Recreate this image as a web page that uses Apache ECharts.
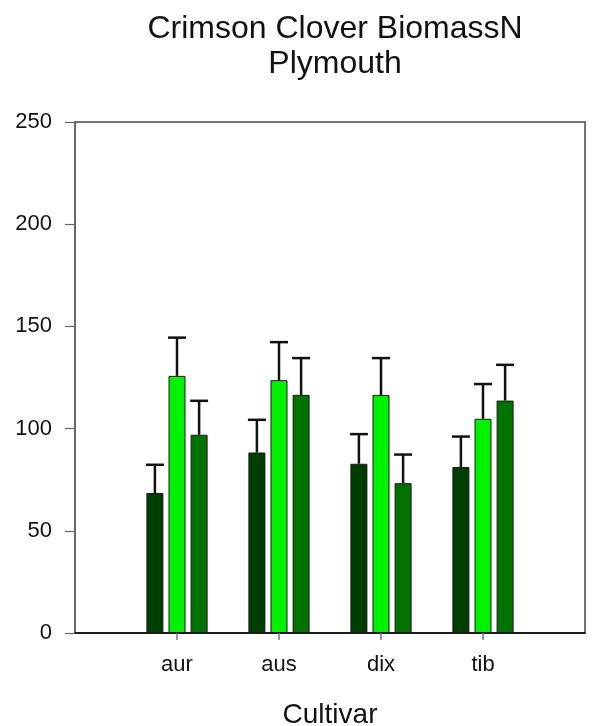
<!DOCTYPE html>
<html>
<head>
<meta charset="utf-8">
<title>Crimson Clover BiomassN - Plymouth</title>
<script src="https://cdn.jsdelivr.net/npm/echarts@6/dist/echarts.min.js"></script>
<style>
  html, body { margin: 0; padding: 0; background: #fff; }
  #chart { width: 604px; height: 726px; }
</style>
</head>
<body>
<div id="chart"></div>
<script>
// Cultivars on the x axis
const cultivars = ['aur', 'aus', 'dix', 'tib'];

// Bar heights (mean biomass N) for the three treatments per cultivar
const meanA = [68.5, 88.3, 82.8, 81.2];
const meanB = [125.8, 123.7, 116.4, 104.8];
const meanC = [97.0, 116.5, 73.3, 113.7];

// Top of the upper error bar (mean + error) for each bar
const upperA = [82.3, 104.3, 97.3, 96.1];
const upperB = [144.5, 142.3, 134.5, 121.8];
const upperC = [113.6, 134.5, 87.3, 131.2];

// Y axis ticks
const yTicks = [0, 50, 100, 150, 200, 250];

const FONT = "'Liberation Sans', Arial, sans-serif";
const BAR_W = 17;
const BAR_GAP = 0.3;
const colors = ['#003d00', '#00f200', '#007200'];

// x axis runs one empty slot beyond each end so the groups sit inside the frame
const xCats = [''].concat(cultivars, ['']);
const pad = arr => [null].concat(arr, [null]);

const means = [meanA, meanB, meanC];
const uppers = [upperA, upperB, upperC];

const barSeries = means.map((m, i) => ({
  type: 'bar',
  data: pad(m),
  barWidth: BAR_W,
  barGap: (BAR_GAP * 100) + '%',
  itemStyle: { color: colors[i], borderColor: '#1a1a1a', borderWidth: 1 },
  silent: true,
  z: 2
}));

const errSeries = uppers.map((u, i) => ({
  type: 'custom',
  silent: true,
  z: 3,
  data: u.map((v, k) => [k + 1, means[i][k], v]),
  encode: { x: 0, y: [1, 2] },
  renderItem: function (params, api) {
    const offset = (i - 1) * BAR_W * (1 + BAR_GAP);
    const base = api.coord([api.value(0), api.value(1)]);
    const top = api.coord([api.value(0), api.value(2)]);
    const x = base[0] + offset;
    const capHalf = 9;
    const style = { stroke: '#111', lineWidth: 2.5 };
    return {
      type: 'group',
      children: [
        { type: 'line', shape: { x1: x, y1: base[1], x2: x, y2: top[1] }, style: style },
        { type: 'line', shape: { x1: x - capHalf, y1: top[1], x2: x + capHalf, y2: top[1] }, style: style }
      ]
    };
  }
}));

const chart = echarts.init(document.getElementById('chart'), null, { renderer: 'canvas' });

chart.setOption({
  backgroundColor: '#ffffff',
  animation: false,
  title: {
    text: 'Crimson Clover BiomassN\nPlymouth',
    left: 330,
    top: 7,
    textAlign: 'center',
    textStyle: {
      fontFamily: FONT,
      fontSize: 32,
      fontWeight: 'normal',
      color: '#111',
      lineHeight: 35
    }
  },
  grid: {
    left: 75,
    right: 19,
    top: 122,
    bottom: 93,
    outerBoundsMode: 'none',
    containLabel: false,
    show: true,
    borderColor: '#444',
    borderWidth: 1.5,
    backgroundColor: 'transparent'
  },
  xAxis: {
    type: 'category',
    data: xCats,
    boundaryGap: false,
    name: 'Cultivar',
    nameLocation: 'middle',
    nameGap: 68,
    nameTextStyle: { fontFamily: FONT, fontSize: 28, color: '#111' },
    axisLine: { show: true, lineStyle: { color: '#000', width: 1.5 } },
    axisTick: {
      show: true,
      length: 7,
      interval: function (index) { return index > 0 && index < xCats.length - 1; },
      lineStyle: { color: '#777', width: 1.5 }
    },
    axisLabel: {
      interval: 0,
      margin: 21,
      fontFamily: FONT,
      fontSize: 22,
      color: '#111'
    },
    splitLine: { show: false }
  },
  yAxis: {
    type: 'value',
    min: yTicks[0],
    max: yTicks[yTicks.length - 1],
    interval: yTicks[1] - yTicks[0],
    axisLine: { show: true, lineStyle: { color: '#666', width: 1.5 } },
    axisTick: { show: true, length: 10, lineStyle: { color: '#666', width: 1.2 } },
    axisLabel: {
      margin: 23,
      fontFamily: FONT,
      fontSize: 22,
      color: '#111'
    },
    splitLine: { show: false }
  },
  series: barSeries.concat(errSeries)
});
</script>
</body>
</html>
